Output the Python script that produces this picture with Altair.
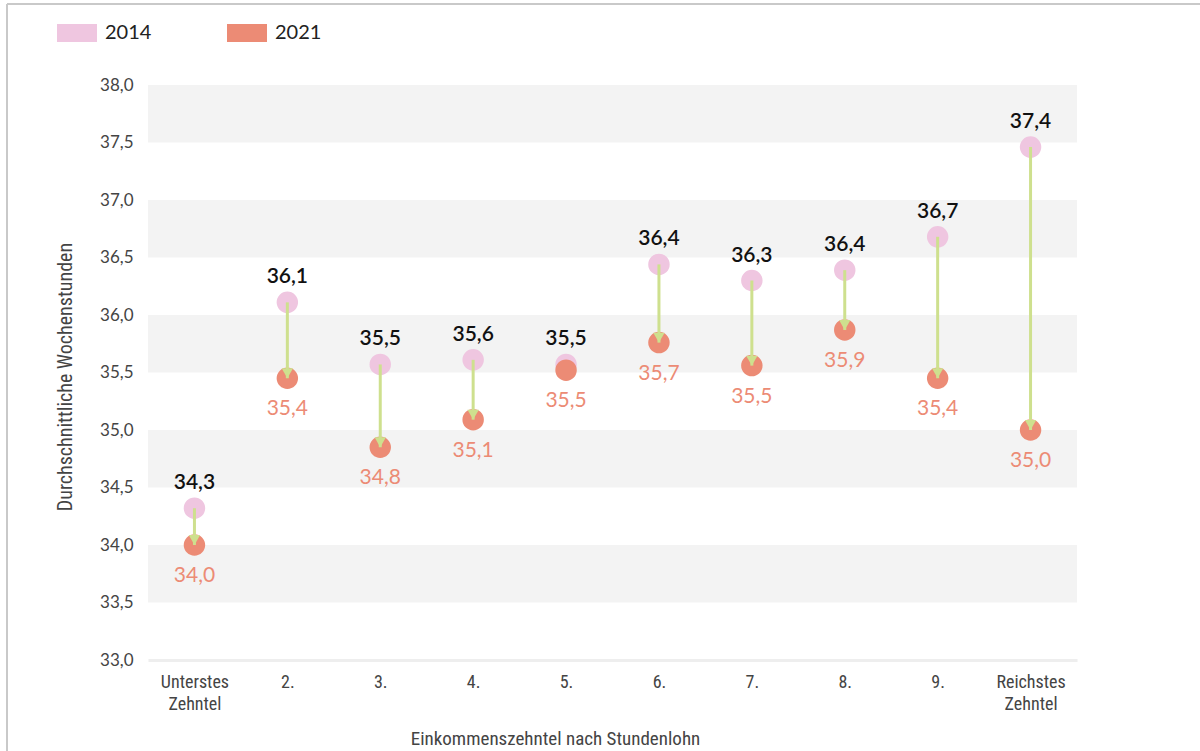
import altair as alt
import pandas as pd

# ---- data ----
categories = ["Unterstes Zehntel", "2.", "3.", "4.", "5.", "6.", "7.", "8.", "9.", "Reichstes Zehntel"]
values_2014 = [34.32, 36.11, 35.57, 35.61, 35.57, 36.44, 36.30, 36.39, 36.68, 37.46]
values_2021 = [34.00, 35.45, 34.85, 35.09, 35.52, 35.76, 35.56, 35.87, 35.45, 35.00]
labels_2014 = ["34,3", "36,1", "35,5", "35,6", "35,5", "36,4", "36,3", "36,4", "36,7", "37,4"]
labels_2021 = ["34,0", "35,4", "34,8", "35,1", "35,5", "35,7", "35,5", "35,9", "35,4", "35,0"]
years = ["2014", "2021"]
band_low = [33.5, 34.5, 35.5, 36.5, 37.5]
band_high = [34.0, 35.0, 36.0, 37.0, 38.0]
y_ticks = [33.0, 33.5, 34.0, 34.5, 35.0, 35.5, 36.0, 36.5, 37.0, 37.5, 38.0]

PINK = "#efc6e0"
SALMON = "#ec8b75"
GREEN = "#cee08e"
BAND = "#f3f3f3"
FONT = "Lato"
AXFONT = "Liberation Sans Narrow, Roboto Condensed, Roboto"

wide = pd.DataFrame({
    "cat": categories,
    "v2014": values_2014,
    "v2021": values_2021,
    "l2014": labels_2014,
    "l2021": labels_2021,
})
long = pd.DataFrame({
    "cat": categories * 2,
    "year": [years[0]] * len(categories) + [years[1]] * len(categories),
    "value": values_2014 + values_2021,
})
bands = pd.DataFrame({"lo": band_low, "hi": band_high})

W, H = 929, 575

xenc = alt.X(
    "cat:N",
    sort=categories,
    scale=alt.Scale(type="point", padding=0.5),
    axis=alt.Axis(
        title="Einkommenszehntel nach Stundenlohn",
        titleFont=AXFONT, titleFontSize=19, titleFontWeight="normal", titleColor="#444",
        titleX=407, titleY=78, titleAnchor="middle", titleBaseline="middle",
        labelAngle=0, labelFont=AXFONT, labelFontSize=18, labelFontWeight="normal", labelColor="#444",
        labelLineHeight=22, labelPadding=13, labelExpr="split(datum.label, ' ')",
        ticks=False, domain=True, domainColor="#eeeeee", domainWidth=3,
        grid=False,
    ),
)
yscale = alt.Scale(domain=[33, 38], nice=False, zero=False)
yenc_axis = alt.Axis(
    title="Durchschnittliche Wochenstunden",
    titleFont=AXFONT, titleFontSize=20, titleFontWeight="normal", titleColor="#444",
    titleX=-83, titleY=H / 2 + 4, titleAngle=270, titleBaseline="middle", titleAnchor="middle",
    values=y_ticks,
    labelExpr="replace(format(datum.value, '.1f'), '.', ',')",
    labelFont=FONT, labelFontSize=17, labelColor="#444", labelPadding=15,
    ticks=False, domain=False, grid=False,
)

band_layer = alt.Chart(bands).mark_rect(color=BAND).encode(
    x=alt.value(0), x2=alt.value("width"),
    y=alt.Y("lo:Q", scale=yscale, axis=yenc_axis), y2="hi:Q",
)

circles = alt.Chart(long).mark_circle(size=460, opacity=1).encode(
    x=xenc,
    y=alt.Y("value:Q", scale=yscale),
    color=alt.Color(
        "year:N",
        scale=alt.Scale(domain=years, range=[PINK, SALMON]),
        legend=alt.Legend(
            title=None, orient="none", direction="horizontal",
            legendX=-91, legendY=-72,
            symbolType="M-1,-0.45H1V0.45H-1Z", symbolSize=1600,
            symbolStrokeWidth=0, symbolOpacity=1,
            labelFont=FONT, labelFontSize=20, labelColor="#222",
            labelOffset=8, columnPadding=75,
        ),
    ),
)

arrow_base = alt.Chart(wide).transform_filter("datum.v2014 - datum.v2021 > 0.1")
arrow_line = arrow_base.mark_rule(color=GREEN, strokeWidth=3).encode(
    x=alt.X("cat:N", sort=categories),
    y=alt.Y("v2014:Q", scale=yscale),
    y2=alt.Y2("v2021:Q"),
)
arrow_head = arrow_base.mark_point(
    shape="triangle-down", filled=True, color=GREEN, size=130, opacity=1, yOffset=-5
).encode(
    x=alt.X("cat:N", sort=categories),
    y=alt.Y("v2021:Q", scale=yscale),
)

text14 = alt.Chart(wide).mark_text(
    font=FONT, fontSize=21, fontWeight=600, color="#111", dy=-25, baseline="middle"
).encode(
    x=alt.X("cat:N", sort=categories),
    y=alt.Y("v2014:Q", scale=yscale),
    text="l2014:N",
)
text21 = alt.Chart(wide).mark_text(
    font=FONT, fontSize=21, fontWeight="normal", color=SALMON, dy=31, baseline="middle"
).encode(
    x=alt.X("cat:N", sort=categories),
    y=alt.Y("v2021:Q", scale=yscale),
    text="l2021:N",
)

# outer frame of the picture (top and left border)
frame_top = alt.Chart(bands).mark_rule(color="#c9c9c9", strokeWidth=2).encode(
    x=alt.value(-141), x2=alt.value(1200 - 148), y=alt.value(-81)
)
frame_left = alt.Chart(bands).mark_rule(color="#c9c9c9", strokeWidth=2).encode(
    x=alt.value(-141), y=alt.value(-81), y2=alt.value(751 - 85)
)

chart = alt.layer(
    band_layer, circles, arrow_line, arrow_head, text14, text21, frame_top, frame_left
).properties(
    width=W, height=H,
    autosize=alt.AutoSizeParams(type="none"),
    padding={"left": 148, "top": 85, "right": 1200 - 148 - W, "bottom": 751 - 85 - H},
    background="white",
).configure_view(stroke=None)

chart.save("out.html", embed_options={"renderer": "svg", "actions": False})
